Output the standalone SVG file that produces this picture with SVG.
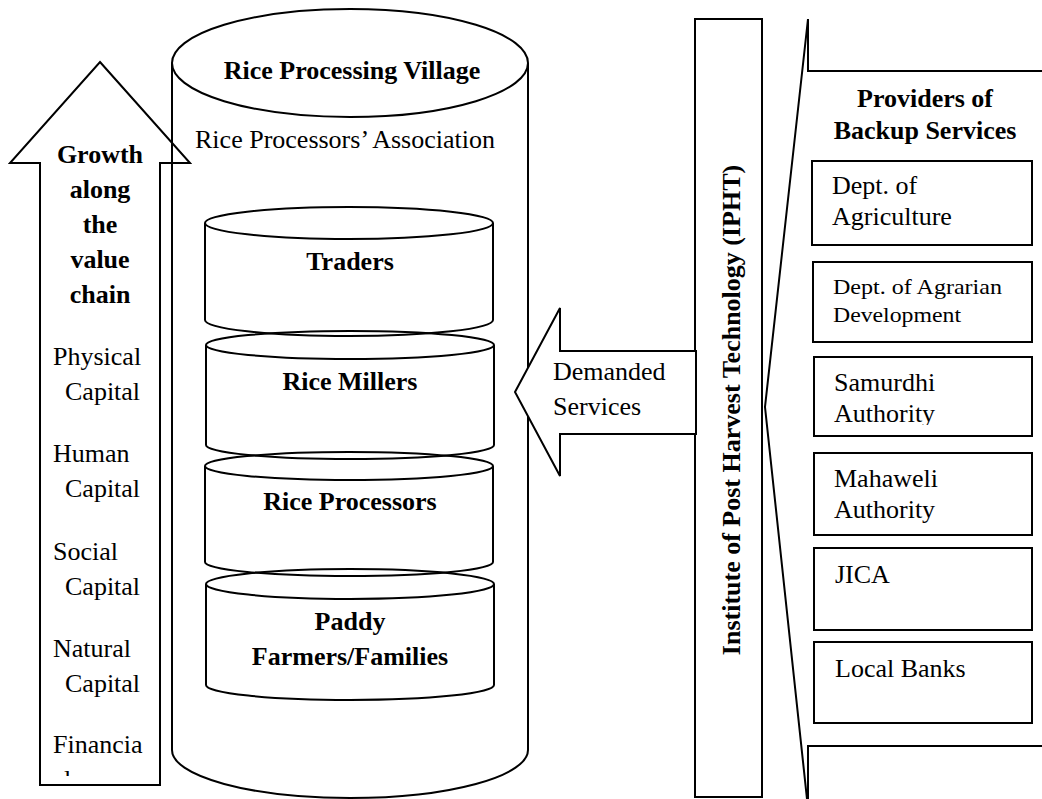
<svg xmlns="http://www.w3.org/2000/svg" width="1042" height="799" viewBox="0 0 1042 799">
<style>
.ln{fill:none;stroke:#000;stroke-width:2}
.wf{fill:#fff;stroke:#000;stroke-width:2}
.t{font-family:"Liberation Serif","Times New Roman",serif;font-size:26px;fill:#000}
.b{font-weight:bold}
.m{text-anchor:middle}
.s{font-size:22px}
</style>
<defs>
<clipPath id="shaftClip"><rect x="40" y="163" width="120" height="613"/></clipPath>
<clipPath id="samClip"><rect x="814" y="357" width="218" height="68"/></clipPath>
</defs>
<rect width="1042" height="799" fill="#fff"/>

<g id="village">
<path class="wf" d="M172,63 V750 A178,48 0 0 0 528,750 V63"/>
<ellipse class="wf" cx="350" cy="63" rx="178" ry="54"/>
<text class="t b m" x="352" y="79">Rice Processing Village</text>
<text class="t m" x="345" y="148">Rice Processors’ Association</text>
</g>

<g id="traders">
<path class="ln" d="M205,223 V320 A144,16 0 0 0 493,320 V223"/>
<ellipse class="ln" cx="349" cy="223" rx="144" ry="16"/>
<text class="t b m" x="350" y="270">Traders</text>
</g>

<g id="millers">
<path class="ln" d="M206,345 V445 A144,14 0 0 0 494,445 V345"/>
<ellipse class="ln" cx="350" cy="345" rx="144" ry="14"/>
<text class="t b m" x="350" y="390">Rice Millers</text>
</g>

<g id="processors">
<path class="ln" d="M205,466 V562 A144,14 0 0 0 493,562 V466"/>
<ellipse class="ln" cx="349" cy="466" rx="144" ry="14"/>
<text class="t b m" x="350" y="510">Rice Processors</text>
</g>

<g id="paddy">
<path class="ln" d="M206,584 V685 A144,15 0 0 0 494,685 V584"/>
<ellipse class="ln" cx="350" cy="584" rx="144" ry="15"/>
<text class="t b m" x="350" y="630">Paddy</text>
<text class="t b m" x="350" y="665">Farmers/Families</text>
</g>

<g id="growth">
<polygon class="ln" points="100,62 190,163 160,163 160,785 40,785 40,163 10,163"/>
<text class="t b m" x="100" y="163">Growth</text>
<text class="t b m" x="100" y="198">along</text>
<text class="t b m" x="100" y="233">the</text>
<text class="t b m" x="100" y="268">value</text>
<text class="t b m" x="100" y="303">chain</text>
<text class="t" x="53" y="365">Physical</text>
<text class="t" x="65" y="400">Capital</text>
<text class="t" x="53" y="462">Human</text>
<text class="t" x="65" y="497">Capital</text>
<text class="t" x="53" y="560">Social</text>
<text class="t" x="65" y="595">Capital</text>
<text class="t" x="53" y="657">Natural</text>
<text class="t" x="65" y="692">Capital</text>
<text class="t" x="53" y="753">Financia</text>
<text class="t" x="64" y="788" clip-path="url(#shaftClip)">l</text>
</g>

<g id="ipht">
<rect class="ln" x="695" y="19" width="67" height="778"/>
<text class="t b m" transform="translate(740,410) rotate(-90)" x="0" y="0">Institute of Post Harvest Technology (IPHT)</text>
</g>

<g id="demanded">
<polygon class="wf" points="515,392 560,308 560,351 696,351 696,434 560,434 560,476"/>
<text class="t" x="553" y="380">Demanded</text>
<text class="t" x="553" y="415">Services</text>
</g>

<g id="providers">
<path class="ln" d="M808,19 L765,407 L807,799"/>
<path class="ln" d="M808,19 V71 H1042"/>
<path class="ln" d="M1042,746 H808 V799"/>
<text class="t b m" x="925" y="107">Providers of</text>
<text class="t b m" x="925" y="139">Backup Services</text>
</g>

<g id="agri">
<rect class="ln" x="812" y="161" width="220" height="84"/>
<text class="t" x="832" y="194">Dept. of</text>
<text class="t" x="832" y="225">Agriculture</text>
</g>
<g id="agrarian">
<rect class="ln" x="813" y="262" width="219" height="80"/>
<text class="t s" x="833" y="294" textLength="169" lengthAdjust="spacingAndGlyphs">Dept. of Agrarian</text>
<text class="t s" x="833" y="322" textLength="128" lengthAdjust="spacingAndGlyphs">Development</text>
</g>
<g id="samurdhi">
<rect class="ln" x="814" y="357" width="218" height="79"/>
<text class="t" x="834" y="391">Samurdhi</text>
<text class="t" x="834" y="422" clip-path="url(#samClip)">Authority</text>
</g>
<g id="mahaweli">
<rect class="ln" x="814" y="453" width="218" height="82"/>
<text class="t" x="834" y="487">Mahaweli</text>
<text class="t" x="834" y="518">Authority</text>
</g>
<g id="jica">
<rect class="ln" x="814" y="548" width="218" height="82"/>
<text class="t" x="835" y="583">JICA</text>
</g>
<g id="banks">
<rect class="ln" x="814" y="642" width="218" height="81"/>
<text class="t" x="835" y="677">Local Banks</text>
</g>
</svg>
